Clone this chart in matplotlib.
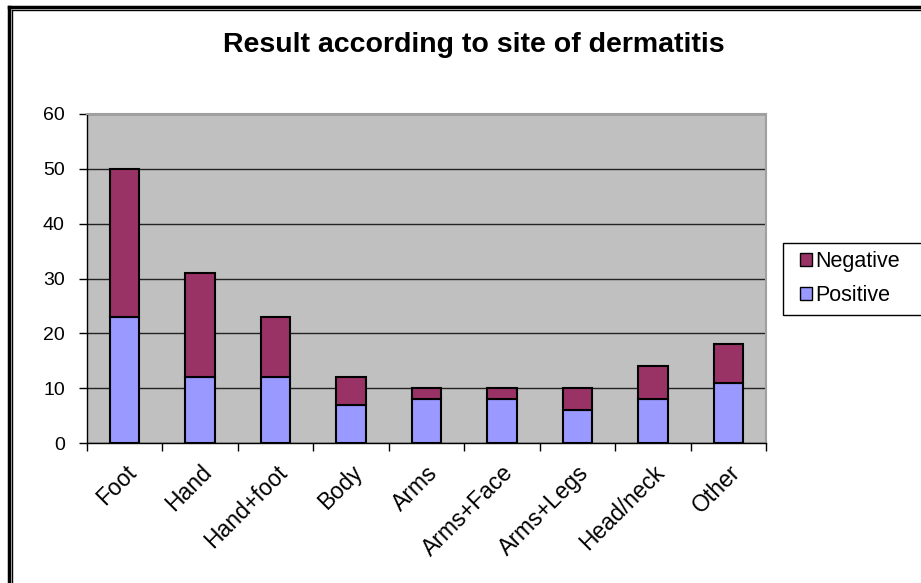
import numpy as np
import matplotlib
matplotlib.use("Agg")
import matplotlib.pyplot as plt
from matplotlib.lines import Line2D
from matplotlib.patches import Patch, Rectangle

plt.rcParams['font.family'] = ['Liberation Sans', 'DejaVu Sans']

sites = ["Foot", "Hand", "Hand+foot", "Body", "Arms", "Arms+Face",
         "Arms+Legs", "Head/neck", "Other"]
positive = [23, 12, 12, 7, 8, 8, 6, 8, 11]
negative = [27, 19, 11, 5, 2, 2, 4, 6, 7]

col_pos = "#9999FF"
col_neg = "#993366"

fig = plt.figure(figsize=(9.21, 5.83), dpi=100)
ax = fig.add_axes([87/921, 1 - 443/583, (766-87)/921, (443-114)/583])
ax.set_facecolor("#C0C0C0")

x = np.arange(len(sites))
w = 0.39
ax.bar(x, positive, w, color=col_pos, edgecolor="black", linewidth=1.5, zorder=3)
ax.bar(x, negative, w, bottom=positive, color=col_neg, edgecolor="black",
       linewidth=1.5, zorder=3)

ax.set_xlim(-0.5, len(sites) - 0.5)
ax.set_ylim(0, 60)
ax.set_yticks(range(0, 61, 10))
ax.yaxis.grid(True, color="#222222", linewidth=1, zorder=1)
ax.set_axisbelow(True)

ax.set_xticks(x)
ax.set_xticklabels(sites, rotation=45, ha="right", rotation_mode="anchor")
ax.set_xticks(np.arange(-0.5, len(sites)), minor=True)
ax.tick_params(axis="x", which="major", length=0, pad=13, labelsize=16.5)
ax.tick_params(axis="x", which="minor", length=6, width=1, direction="out")
ax.tick_params(axis="y", length=6, width=1, labelsize=14, pad=10)

for s in ["top", "right"]:
    ax.spines[s].set_color("#A0A0A0")
    ax.spines[s].set_linewidth(1.5)
for s in ["left", "bottom"]:
    ax.spines[s].set_color("black")
    ax.spines[s].set_linewidth(1)

fig.text(0.514, 0.922, "Result according to site of dermatitis",
         ha="center", va="center", fontsize=20.5, fontweight="bold")

# legend frame runs off the right edge like in the original
fig.add_artist(Rectangle((783/921, 1 - 315/583), 150/921, 72/583,
                         transform=fig.transFigure, facecolor="white",
                         edgecolor="black", linewidth=1))
handles = [Patch(facecolor=col_neg, edgecolor="black", label="Negative"),
           Patch(facecolor=col_pos, edgecolor="black", label="Positive")]
leg = fig.legend(handles=handles, loc="upper left",
                 bbox_to_anchor=(800/921, 1 - 251/583), fontsize=15.5,
                 frameon=False, handlelength=0.55, handleheight=0.55,
                 handletextpad=0.15, borderpad=0, labelspacing=0.6,
                 borderaxespad=0)

# outer double border on left and top
fig.add_artist(Line2D([8.5/921, 8.5/921], [0, 1 - 6.5/583], color="black",
                      linewidth=2.5, transform=fig.transFigure))
fig.add_artist(Line2D([8.5/921, 1], [1 - 6.5/583, 1 - 6.5/583], color="black",
                      linewidth=2.5, transform=fig.transFigure))
fig.add_artist(Line2D([11.5/921, 11.5/921], [0, 1 - 10/583], color="black",
                      linewidth=1, transform=fig.transFigure))
fig.add_artist(Line2D([11.5/921, 1], [1 - 10/583, 1 - 10/583], color="black",
                      linewidth=1, transform=fig.transFigure))

fig.savefig("out.png", dpi=100)
